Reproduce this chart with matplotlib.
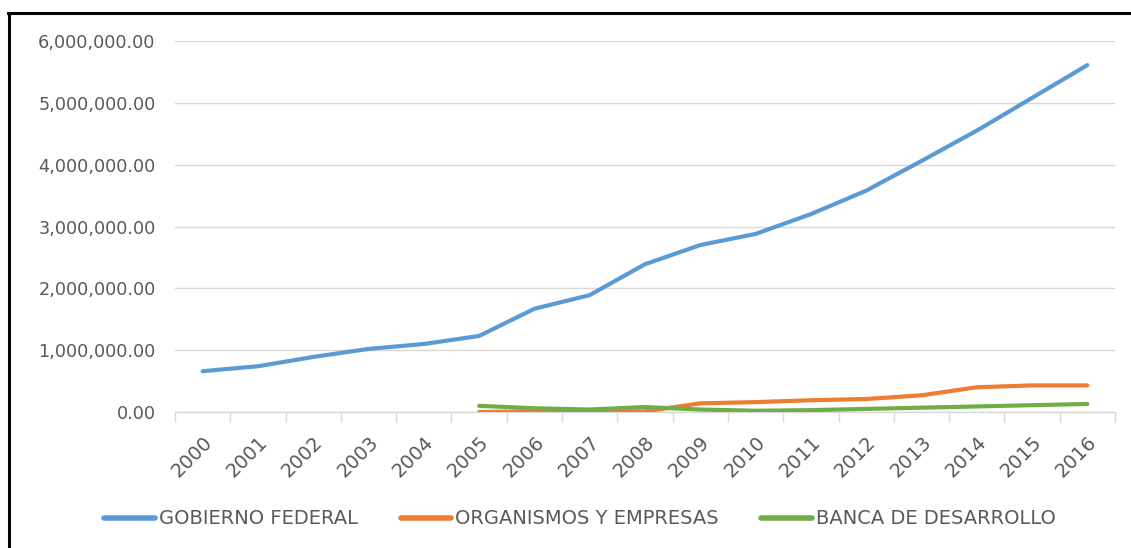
import matplotlib
matplotlib.use("Agg")
import matplotlib.pyplot as plt
from matplotlib.lines import Line2D
from matplotlib.ticker import FuncFormatter, FixedLocator
from matplotlib.transforms import ScaledTranslation

years = [str(y) for y in range(2000, 2017)]
gobierno = [660000, 740000, 890000, 1020000, 1100000, 1230000, 1670000, 1890000,
            2390000, 2700000, 2880000, 3200000, 3580000, 4060000, 4550000, 5080000, 5610000]
org_years = years[5:]
organismos = [0, 10000, 10000, 10000, 140000, 160000, 190000, 210000, 270000, 400000, 430000, 430000]
banca = [100000, 60000, 40000, 80000, 40000, 20000, 30000, 50000, 70000, 90000, 110000, 130000]
series_names = ["GOBIERNO FEDERAL", "ORGANISMOS Y EMPRESAS", "BANCA DE DESARROLLO"]
colors = ["#5B9BD5", "#ED7D31", "#70AD47"]

W, H = 1131, 548
fig = plt.figure(figsize=(W / 100, H / 100), dpi=100, facecolor="white")
ax = fig.add_axes([175 / W, 1 - 412 / H, (1115 - 175) / W, (412 - 41) / H])

xi = list(range(len(years)))
off = years.index(org_years[0])
xo = [off + i for i in range(len(org_years))]
lw = 3.0
ax.plot(xi, gobierno, color=colors[0], lw=lw, solid_capstyle="round", solid_joinstyle="round", label=series_names[0], zorder=3)
ax.plot(xo, organismos, color=colors[1], lw=lw, solid_capstyle="round", solid_joinstyle="round", label=series_names[1], zorder=3)
ax.plot(xo, banca, color=colors[2], lw=lw, solid_capstyle="round", solid_joinstyle="round", label=series_names[2], zorder=4)

ax.set_xlim(-0.5, len(years) - 0.5)
ax.set_ylim(0, 6000000)
ax.set_yticks([0, 1000000, 2000000, 3000000, 4000000, 5000000, 6000000])
ax.yaxis.set_major_formatter(FuncFormatter(lambda v, p: f"{v:,.2f}"))
ax.grid(axis="y", color="#d9d9d9", lw=1)
ax.set_axisbelow(True)

ax.xaxis.set_major_locator(FixedLocator([i - 0.5 for i in range(len(years) + 1)]))
ax.xaxis.set_minor_locator(FixedLocator(xi))
ax.set_xticklabels([], minor=False)
ax.set_xticklabels(years, minor=True, rotation=45, ha="right", va="top",
                   rotation_mode="anchor", fontsize=14, color="#595959")
shift = ScaledTranslation(-5 / 100, 0, fig.dpi_scale_trans)
for lab in ax.get_xticklabels(minor=True):
    lab.set_transform(lab.get_transform() + shift)
ax.tick_params(axis="x", which="major", length=7, color="#d9d9d9", width=1)
ax.tick_params(axis="x", which="minor", length=0, pad=15)
ax.tick_params(axis="y", length=0, pad=14, labelsize=12.7, labelcolor="#595959")

for s in ["top", "right", "left"]:
    ax.spines[s].set_visible(False)
ax.spines["bottom"].set_color("#d9d9d9")
ax.spines["bottom"].set_linewidth(1)

leg = fig.legend(loc="center", bbox_to_anchor=(580 / W, 1 - 519 / H), ncol=3, frameon=False,
                 fontsize=14, handlelength=2.6, handletextpad=0.2, columnspacing=2.2)
for t in leg.get_texts():
    t.set_color("#595959")
for l in leg.get_lines():
    l.set_linewidth(4)

# outer border (left and top visible, cropped at right/bottom)
fig.add_artist(Line2D([9 / W, 9 / W], [-0.01, 1 - 13 / H], transform=fig.transFigure, color="black", lw=2.2))
fig.add_artist(Line2D([8 / W, 1129 / W], [1 - 13 / H, 1 - 13 / H], transform=fig.transFigure, color="black", lw=2.2))

fig.savefig("out.png", dpi=100, facecolor="white")
